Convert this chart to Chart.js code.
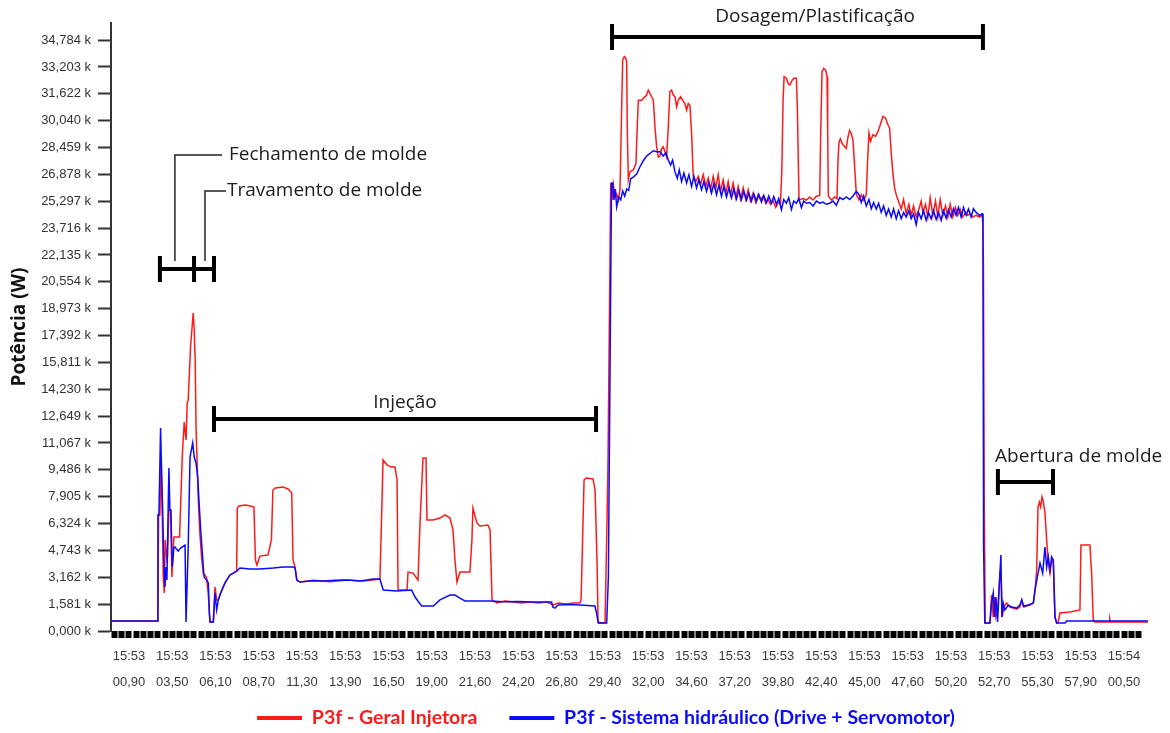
<!DOCTYPE html>
<html>
<head>
<meta charset="utf-8">
<title>Potência P3f</title>
<script src="https://cdn.jsdelivr.net/npm/chart.js@4.4.1/dist/chart.umd.min.js"></script>
<style>
    html, body { margin: 0; padding: 0; background: #ffffff; }
    #chart-content { width: 1170px; height: 733px; }
</style>
</head>
<body>
<div id="chart-content"><canvas id="potencia-chart" width="1170" height="733"></canvas></div>
<script>
// tempo em segundos depois de 15:53:00, potência em W

const geralT = [-0.18, 2.60, 2.64, 2.68, 2.76, 2.82, 2.90, 2.96, 3.02, 3.08, 3.20, 3.30, 3.40, 3.48, 3.60, 3.80, 3.94, 4.00, 4.10, 4.22, 4.33, 4.40, 4.46, 4.60, 4.76, 4.82, 4.88, 4.93, 5.06, 5.16, 5.26, 5.36, 5.56, 5.66, 5.77, 5.97, 6.07, 6.17, 6.27, 6.41, 6.67, 6.97, 7.17,
    7.37, 7.41, 7.50, 7.90, 8.20, 8.41, 8.50, 8.59, 8.77, 9.25, 9.46, 9.55, 9.70, 10.15, 10.46, 10.68, 10.76, 10.88, 11.00, 11.18, 12.00, 13.00, 14.00, 15.00, 15.98,
    16.05, 16.17, 16.41, 16.65, 16.89, 17.01, 17.07, 17.61, 17.67, 17.97, 18.27, 18.39, 18.57, 18.75, 18.81, 19.17, 19.59, 19.89, 20.19, 20.37, 20.49, 20.61, 20.79, 21.39, 21.51, 21.57, 21.81, 21.99, 22.47, 22.60, 22.72,
    23.00, 23.50, 24.00, 24.50, 25.00, 25.50, 26.00, 26.40, 26.70, 27.20, 27.60, 28.00, 28.07, 28.13, 28.25, 28.37, 28.79, 28.91, 29.03, 29.09, 29.15, 29.51, 29.63, 29.69, 29.85,
    29.93, 30.01, 30.11, 30.21, 30.31, 30.41, 30.49, 30.57, 30.67, 30.75, 30.81, 30.85, 30.91, 31.01, 31.21, 31.37, 31.43, 31.51, 31.71, 31.91, 32.01, 32.11, 32.21, 32.31, 32.41, 32.51, 32.61, 32.71, 32.81, 32.91, 33.01, 33.11, 33.21, 33.31, 33.41, 33.51, 33.61, 33.71, 33.81, 33.91, 34.05, 34.17, 34.31, 34.41, 34.51, 34.61, 34.71, 34.81, 34.97,
    35.11, 35.25, 35.41, 35.57, 35.71, 35.85, 36.01, 36.17, 36.31, 36.45, 36.61, 36.77, 36.91, 37.05, 37.21, 37.37, 37.51, 37.65, 37.81, 37.97, 38.11, 38.25, 38.41, 38.57, 38.71, 38.85, 39.01, 39.17, 39.31, 39.45, 39.61, 39.77, 39.91, 40.05,
    40.13, 40.21, 40.27, 40.41, 40.51, 40.61, 40.71, 40.85, 41.01, 41.07, 41.13, 41.17, 41.41, 41.61, 41.81, 42.01, 42.21, 42.41, 42.47, 42.55, 42.65, 42.77, 42.85, 42.89, 42.93, 43.11, 43.31, 43.45,
    43.51, 43.57, 43.65, 43.77, 43.91, 44.01, 44.11, 44.21, 44.31, 44.41, 44.51, 44.61, 44.77, 44.91, 45.05, 45.21, 45.29, 45.37, 45.47, 45.61, 45.77, 45.91, 46.05, 46.21, 46.37, 46.51, 46.61, 46.71, 46.81, 46.91,
    47.01, 47.17, 47.31, 47.45, 47.61, 47.77, 47.91, 48.05, 48.21, 48.37, 48.51, 48.61, 48.77, 48.91, 49.05, 49.21, 49.37, 49.51, 49.65, 49.81, 49.97, 50.11, 50.25, 50.41, 50.57, 50.71, 50.85, 51.01, 51.17, 51.31, 51.45, 51.61, 51.81, 52.01, 52.21,
    52.25, 52.30, 52.36, 52.64, 52.74, 52.84, 52.92, 53.00, 53.10, 53.18, 53.26, 53.32, 53.38, 53.48, 53.64, 53.84, 54.04, 54.24, 54.44, 54.56, 54.68, 55.04, 55.25, 55.35, 55.45, 55.53, 55.61, 55.69, 55.77, 55.85, 55.95,
    56.05, 56.15, 56.25, 56.35, 56.45, 56.55, 56.65, 56.75, 56.85, 57.45, 58.05, 58.11, 58.65, 58.75, 58.85, 58.95, 59.80, 59.84, 59.88, 62.14];

const geralW = [590, 590, 1060, 6830, 6830, 10240, 6830, 3180, 2240, 5360, 4000, 7120, 7120, 3180, 5530, 5530, 5530, 7300, 10240, 12300, 11240, 13420, 13600, 16720, 18720, 17720, 15950, 12000, 7890, 5770, 4360, 3410, 3180, 2240, 530, 530, 2590, 1830, 1830, 2240, 2830, 3300, 3410,
    3530, 7240, 7360, 7420, 7360, 7300, 4180, 3880, 4410, 4470, 5360, 8300, 8420, 8480, 8360, 8120, 4180, 3770, 3000, 2880, 2990, 2900, 3000, 2940, 3060,
    5530, 10070, 9770, 9650, 9650, 8890, 2410, 2410, 3470, 3410, 3000, 6360, 10180, 10180, 6530, 6530, 6650, 6830, 6650, 5950, 4180, 2880, 3470, 3470, 5360, 7240, 6360, 6180, 6240, 5950, 1830,
    1650, 1770, 1710, 1650, 1710, 1650, 1710, 1530, 1650, 1590, 1650, 1650, 1830, 4180, 8890, 9010, 8950, 8300, 4000, 650, 470, 470, 6530, 10070, 26370,
    25370, 26280, 25540, 25720, 25370, 26020, 29880, 33610, 33810, 33720, 33530, 29320, 26560, 27040, 27140, 27520, 29320, 31250, 31250, 31450, 31550, 31840, 31640, 31450, 31250, 29680, 28510, 27900, 27960, 28390, 28510, 28210, 27900, 29680, 31750, 31840, 31550, 31450, 30860, 31250, 31450, 31250, 31050, 30660, 31050, 30950, 29320, 26760, 26460,
    26760, 26280, 26860, 26170, 26660, 25980, 26760, 26080, 26860, 25880, 26560, 25780, 26460, 25680, 26370, 25500, 26170, 25400, 26080, 25400, 25980, 25310, 25780, 25220, 25680, 25400, 25590, 25180, 25400, 25120, 25310, 24930, 25220, 25180,
    26940, 31250, 32630, 32540, 32240, 32140, 32340, 32540, 32540, 30680, 27330, 25370, 25460, 25370, 25550, 25370, 25590, 25640, 29320, 32920, 33120, 33020, 32630, 29320, 25590, 25370, 25550, 25440,
    27720, 28780, 28980, 28680, 28510, 28410, 29080, 29470, 29270, 28900, 27330, 25720, 25370, 25680, 25370, 25680, 27720, 29320, 28830, 29220, 29120, 29410, 29800, 30290, 30190, 29800, 29610, 28120, 26940, 26080,
    25680, 25220, 24830, 25400, 24570, 25120, 24470, 25020, 24370, 24830, 25310, 24640, 25120, 24370, 25500, 24470, 25310, 24370, 25400, 24470, 25020, 24370, 25120, 24370, 24930, 24470, 24830, 24370, 24640, 24470, 24560, 24370, 24470, 24370, 24510,
    21500, 7530, 470, 470, 2120, 820, 2000, 820, 1120, 2410, 3590, 3000, 820, 1410, 1650, 1410, 1350, 1290, 1410, 1830, 1410, 1530, 1650, 2410, 3590, 7300, 7590, 7300, 7890, 7590, 6950,
    5360, 4000, 3410, 4180, 4000, 820, 470, 530, 1060, 1120, 1240, 5060, 5060, 3410, 650, 530, 530, 710, 530, 530];

const hidT = [-0.18, 2.60, 2.64, 2.70, 2.80, 2.84, 2.88, 2.92, 3.00, 3.06, 3.12, 3.18, 3.30, 3.36, 3.42, 3.50, 3.60, 3.66, 3.86, 4.00, 4.27, 4.33, 4.38, 4.46, 4.57, 4.73, 4.82, 4.93, 5.03, 5.13, 5.21, 5.31, 5.41, 5.57, 5.67, 5.73, 5.77, 5.97, 6.07, 6.17, 6.27, 6.41, 6.67, 6.97,
    7.17, 7.37, 7.57, 8.17, 8.77, 9.57, 10.17, 10.77, 10.88, 10.98, 11.18, 11.90, 12.58, 13.30, 13.98, 14.80, 15.58, 15.98, 16.18, 16.99, 17.89, 18.09, 18.49, 19.19, 19.59, 20.19, 20.49, 20.79, 21.09, 22.60,
    23.40, 24.30, 25.20, 26.30, 26.37, 26.50, 26.70, 27.30, 28.00, 28.90, 29.00, 29.10, 29.61, 29.71, 29.90,
    29.97, 30.05, 30.13, 30.21, 30.33, 30.45, 30.57, 30.69, 30.81, 30.93, 31.05, 31.21, 31.41, 31.61, 31.81, 32.01, 32.21, 32.41, 32.61, 32.81, 33.01, 33.17, 33.31, 33.45, 33.57, 33.71, 33.85, 33.97, 34.11, 34.25, 34.41, 34.55, 34.71, 34.85,
    35.01, 35.15, 35.31, 35.45, 35.61, 35.75, 35.91, 36.05, 36.21, 36.35, 36.51, 36.65, 36.81, 36.95, 37.11, 37.25, 37.41, 37.55, 37.71, 37.85, 38.01, 38.15, 38.31, 38.45, 38.61, 38.75, 38.91, 39.05, 39.21, 39.35, 39.51, 39.65, 39.81, 39.95,
    40.11, 40.25, 40.41, 40.55, 40.71, 40.85, 41.01, 41.15, 41.31, 41.45, 41.61, 41.81, 42.01, 42.21, 42.41, 42.61, 42.81, 43.01, 43.21, 43.41, 43.61, 43.81, 44.01, 44.21, 44.41, 44.61, 44.77, 44.91,
    45.05, 45.21, 45.37, 45.51, 45.65, 45.81, 45.95, 46.11, 46.25, 46.41, 46.55, 46.71, 46.85, 47.01, 47.15, 47.31, 47.45, 47.61, 47.77, 47.91, 48.05, 48.21, 48.35, 48.51, 48.65, 48.81, 48.95,
    49.11, 49.25, 49.41, 49.55, 49.71, 49.85, 50.01, 50.15, 50.31, 50.45, 50.61, 50.75, 50.91, 51.05, 51.21, 51.35, 51.51, 51.65, 51.81, 52.01, 52.17,
    52.22, 52.26, 52.33, 52.64, 52.74, 52.84, 52.92, 53.00, 53.10, 53.20, 53.30, 53.36, 53.44, 53.54, 53.74, 53.94, 54.24, 54.44, 54.55, 54.65, 54.95, 55.25, 55.35, 55.49, 55.65, 55.81, 55.95,
    56.05, 56.15, 56.25, 56.35, 56.45, 56.55, 56.65, 57.15, 57.25, 62.14];

const hidW = [590, 590, 6830, 6830, 11950, 10240, 10240, 7300, 4000, 2590, 3770, 3000, 9590, 7120, 7120, 3770, 4900, 4940, 4700, 4880, 5060, 530, 530, 4940, 10240, 11070, 10240, 9890, 9060, 7300, 5950, 4590, 3180, 3000, 2830, 1060, 530, 530, 2240, 1240, 1830, 2240, 2830, 3300,
    3410, 3530, 3710, 3650, 3650, 3710, 3770, 3770, 3710, 3000, 2880, 2960, 2940, 2990, 3000, 2950, 3060, 3060, 2410, 2350, 2410, 2000, 1470, 1470, 1830, 2120, 2120, 1940, 1770, 1770,
    1720, 1740, 1700, 1710, 1410, 1350, 1530, 1560, 1530, 1470, 1060, 470, 470, 3180, 26370,
    26370, 25370, 26020, 24960, 25540, 25370, 25900, 25600, 26020, 25930, 26620, 26720, 26900, 27330, 27680, 27960, 28110, 28270, 28210, 28210, 27960, 28150, 27720, 27430, 27720, 27040, 26650, 27140, 26460, 26950, 26370, 26860, 26170, 26760,
    26080, 26560, 25980, 26460, 25880, 26410, 25780, 26330, 25680, 26230, 25590, 26170, 25550, 26080, 25500, 26020, 25440, 25940, 25400, 25880, 25360, 25780, 25310, 25730, 25290, 25700, 25250, 25640, 25220, 25610, 25180, 25570, 25120, 25460,
    24800, 25400, 25180, 25510, 24820, 25310, 25180, 25460, 24930, 25310, 25180, 25220, 25020, 25310, 25180, 25250, 25120, 25180, 25310, 25060, 25510, 25400, 25550, 25400, 25610, 25880, 25700, 25220,
    25610, 25020, 25400, 24860, 25220, 24840, 25180, 24640, 25020, 24470, 24840, 24370, 24840, 24270, 24740, 24270, 24640, 24370, 24740, 24270, 24560, 23920, 24640, 24270, 24740, 24180, 24640,
    24270, 24740, 24230, 24640, 24180, 24740, 24300, 24800, 24370, 24860, 24470, 24930, 24370, 24930, 24470, 24840, 24370, 24860, 24640, 24470, 24560,
    24000, 4940, 470, 470, 1650, 2240, 820, 2000, 530, 2590, 4470, 820, 1650, 1240, 1530, 1410, 1350, 1530, 1830, 1470, 1530, 1650, 2410, 3180, 4000, 3410, 4940,
    3770, 4360, 3590, 4360, 4180, 820, 470, 470, 590, 590];

// rótulos dos eixos
const yTickValues = [0, 1581, 3162, 4743, 6324, 7905, 9486, 11067, 12649, 14230, 15811, 17392, 18973, 20554, 22135, 23716, 25297, 26878, 28459, 30040, 31622, 33203, 34784];
const xTickMinutes = ['15:53', '15:53', '15:53', '15:53', '15:53', '15:53', '15:53', '15:53', '15:53', '15:53', '15:53', '15:53', '15:53', '15:53', '15:53', '15:53', '15:53', '15:53', '15:53', '15:53', '15:53', '15:53', '15:53', '15:54'];
const xTickSeconds = ['00,90', '03,50', '06,10', '08,70', '11,30', '13,90', '16,50', '19,00', '21,60', '24,20', '26,80', '29,40', '32,00', '34,60', '37,20', '39,80', '42,40', '45,00', '47,60', '50,20', '52,70', '55,30', '57,90', '00,50'];

// fases do ciclo (tempo em s, nível em W)
const phases = [
    {label: 'Injeção', from: 5.89, to: 29.09, level: 12480, textAt: 17.49, textLevel: 13420, align: 'center'},
    {label: 'Dosagem/Plastificação', from: 29.81, to: 52.34, level: 34960, textAt: 42.13, textLevel: 36140, align: 'center'},
    {label: 'Abertura de molde', from: 53.0, to: 56.55, level: 8770, textAt: 52.95, textLevel: 10240, align: 'left'}
];
const moldBracket = {from: 2.64, mid: 4.81, to: 6.13, level: 21310};
const moldNotes = [
    {label: 'Fechamento de molde', at: 3.66, top: 28020, lineTo: 6.49, gap: 7},
    {label: 'Travamento de molde', at: 5.47, top: 25900, lineTo: 6.73, gap: 1}
];

const xFirstTick = 0.9;
const xTickStep = 2.6 / 6;

const toPoints = (ts, ws) => ts.map((t, i) => ({x: t, y: ws[i]}));

const fmtK = v => (v / 1000).toFixed(3).replace('.', ',') + ' k';

const phasePlugin = {
    id: 'phases',
    afterLayout(chart) {
        // legenda: centrada um pouco à direita e subida, como no original
        chart.legend.left += 64;
        chart.legend.top -= 25.75;
        chart.legend.bottom -= 25.75;
    },
    afterDraw(chart) {
        const {ctx, scales: {x, y}} = chart;
        const bar = (x1, x2, yy, caps) => {
            ctx.save();
            ctx.strokeStyle = '#000';
            ctx.lineWidth = 4;
            ctx.lineCap = 'butt';
            ctx.beginPath();
            ctx.moveTo(x1, yy);
            ctx.lineTo(x2, yy);
            caps.forEach(cx => {
                ctx.moveTo(cx, yy - 13);
                ctx.lineTo(cx, yy + 13);
            });
            ctx.stroke();
            ctx.restore();
        };
        ctx.save();
        ctx.font = "19px 'Open Sans'";
        ctx.fillStyle = '#1c1c1c';
        ctx.textBaseline = 'middle';

        phases.forEach(p => {
            const x1 = x.getPixelForValue(p.from), x2 = x.getPixelForValue(p.to);
            bar(x1, x2, y.getPixelForValue(p.level), [x1 + 2, x2 - 2]);
            ctx.textAlign = p.align;
            ctx.fillText(p.label, x.getPixelForValue(p.textAt), y.getPixelForValue(p.textLevel));
        });

        const m1 = x.getPixelForValue(moldBracket.from);
        const m2 = x.getPixelForValue(moldBracket.mid);
        const m3 = x.getPixelForValue(moldBracket.to);
        const my = y.getPixelForValue(moldBracket.level);
        bar(m1, m3, my, [m1 + 2, m2, m3 - 2]);

        ctx.strokeStyle = '#222';
        ctx.lineWidth = 1.5;
        ctx.textAlign = 'left';
        moldNotes.forEach(n => {
            const lx = x.getPixelForValue(n.at);
            const ty = y.getPixelForValue(n.top);
            const ex = x.getPixelForValue(n.lineTo);
            ctx.beginPath();
            ctx.moveTo(lx, my - 8);
            ctx.lineTo(lx, ty);
            ctx.lineTo(ex, ty);
            ctx.stroke();
            ctx.fillText(n.label, ex + n.gap, ty);
        });
        ctx.restore();
    }
};

Chart.defaults.font.family = "'Liberation Sans', Arial, sans-serif";

const config = {
    type: 'line',
    data: {
        datasets: [
            {
                label: 'P3f - Geral Injetora',
                data: toPoints(geralT, geralW),
                borderColor: '#ff1a1a',
                borderWidth: 1.5,
                pointRadius: 0,
                tension: 0,
                fill: false,
                order: 1
            },
            {
                label: 'P3f - Sistema hidráulico (Drive + Servomotor)',
                data: toPoints(hidT, hidW),
                borderColor: '#0a0aff',
                borderWidth: 1.5,
                pointRadius: 0,
                tension: 0,
                fill: false,
                order: 0
            }
        ]
    },
    options: {
        responsive: false,
        animation: false,
        layout: {
            padding: {top: 23, right: 22, left: 0, bottom: -30.5}
        },
        plugins: {
            tooltip: {enabled: false},
            legend: {
                position: 'bottom',
                labels: {
                    boxWidth: 45,
                    boxHeight: 4,
                    padding: 32,
                    font: {family: "Lato", size: 19.5, weight: 'bold'},
                    generateLabels: chart => chart.data.datasets.map((ds, i) => ({
                        text: ds.label,
                        fillStyle: ds.borderColor,
                        strokeStyle: ds.borderColor,
                        lineWidth: 0,
                        fontColor: ds.borderColor,
                        hidden: false,
                        datasetIndex: i
                    }))
                }
            }
        },
        scales: {
            x: {
                type: 'linear',
                min: -0.18,
                max: 62.14,
                afterBuildTicks: scale => {
                    const ticks = [];
                    for (let k = -2; k <= 140; k++) ticks.push({value: xFirstTick + k * xTickStep});
                    scale.ticks = ticks;
                },
                afterFit: scale => { scale.height = 71; },
                border: {display: false},
                grid: {
                    drawOnChartArea: false,
                    drawTicks: true,
                    tickLength: 7,
                    tickWidth: 6,
                    tickColor: '#000'
                },
                ticks: {
                    autoSkip: false,
                    maxRotation: 0,
                    padding: 5,
                    color: '#3a3a3a',
                    font: {size: 13, lineHeight: 2},
                    callback: (value, index) => {
                        if (index % 6 !== 2) return '';
                        const j = (index - 2) / 6;
                        return [xTickMinutes[j], xTickSeconds[j]];
                    }
                }
            },
            y: {
                min: 0,
                max: 35790,
                afterBuildTicks: scale => {
                    scale.ticks = yTickValues.map(v => ({value: v}));
                },
                afterFit: scale => { scale.width = 111; },
                border: {display: true, color: '#333', width: 2},
                grid: {
                    drawOnChartArea: false,
                    drawTicks: true,
                    tickLength: 13,
                    tickWidth: 2,
                    tickColor: '#333'
                },
                title: {
                    display: true,
                    text: 'Potência (W)',
                    color: '#111',
                    font: {family: "'Open Sans'", size: 19, weight: 'bold'},
                    padding: {top: 8, bottom: 4}
                },
                ticks: {
                    autoSkip: false,
                    padding: 7,
                    color: '#333',
                    font: {size: 13},
                    callback: value => fmtK(value)
                }
            }
        }
    },
    plugins: [phasePlugin]
};

const ctx = document.getElementById('potencia-chart').getContext('2d');
window.potenciaChart = new Chart(ctx, config);
</script>
</body>
</html>
